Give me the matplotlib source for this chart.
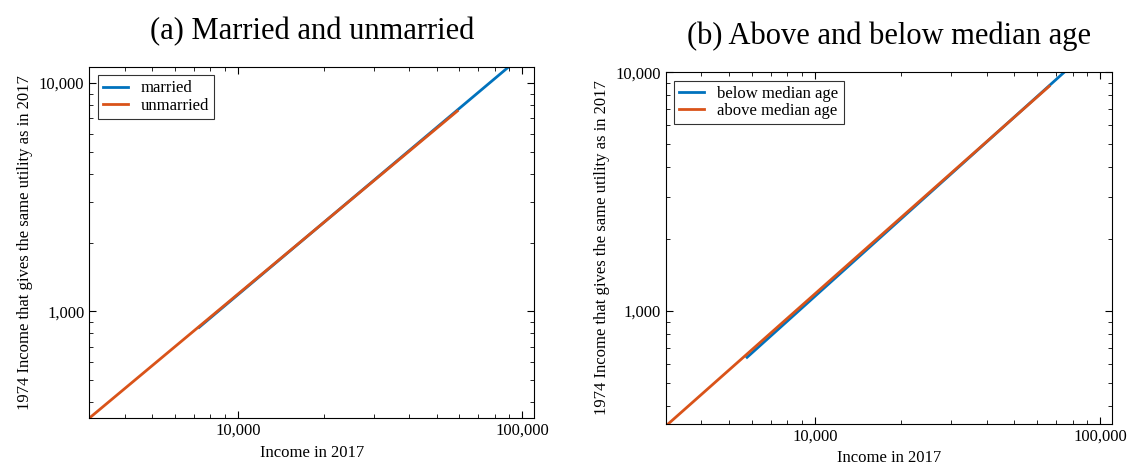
import matplotlib
matplotlib.use("Agg")
import matplotlib.pyplot as plt
from matplotlib.ticker import FixedLocator, FuncFormatter, NullFormatter

plt.rcParams['font.family'] = ['Liberation Serif', 'DejaVu Serif']

# Panel (a)
married_x = [7300, 89300]
married_y = [850, 11760]
unmarried_x = [3000, 59000]
unmarried_y = [340, 7540]
# Panel (b)
below_x = [5780, 74800]
below_y = [640, 10000]
above_x = [3060, 66300]
above_y = [337, 8740]

blue = '#0072BD'
orange = '#D95319'

fig = plt.figure(figsize=(11.44, 4.72), dpi=100)
ax1 = fig.add_axes([0.078, 0.114, 0.389, 0.744])
ax2 = fig.add_axes([0.582, 0.102, 0.390, 0.745])

fmt = FuncFormatter(lambda v, p: f"{int(round(v)):,}")

def style(ax, ylim, title):
    ax.set_xscale('log'); ax.set_yscale('log')
    ax.set_xlim(3000, 110000); ax.set_ylim(*ylim)
    ax.xaxis.set_major_locator(FixedLocator([10000, 100000]))
    ax.yaxis.set_major_locator(FixedLocator([1000, 10000]))
    ax.xaxis.set_major_formatter(fmt); ax.yaxis.set_major_formatter(fmt)
    ax.xaxis.set_minor_formatter(NullFormatter()); ax.yaxis.set_minor_formatter(NullFormatter())
    ax.tick_params(which='both', direction='in', labelsize=12, top=True, right=True)
    ax.tick_params(which='major', length=5); ax.tick_params(which='minor', length=3)
    ax.set_xlabel('Income in 2017', fontsize=12)
    ax.set_ylabel('1974 Income that gives the same utility as in 2017', fontsize=12)
    ax.set_title(title, fontsize=22, pad=20)

ax1.plot(married_x, married_y, color=blue, lw=2, label='married')
ax1.plot(unmarried_x, unmarried_y, color=orange, lw=2, label='unmarried')
style(ax1, (340, 11760), '(a) Married and unmarried')

ax2.plot(below_x, below_y, color=blue, lw=2, label='below median age')
ax2.plot(above_x, above_y, color=orange, lw=2, label='above median age')
style(ax2, (337, 10000), '(b) Above and below median age')

for ax in (ax1, ax2):
    leg = ax.legend(loc='upper left', fontsize=12, frameon=True, fancybox=False,
                    edgecolor='black', handlelength=1.5, borderpad=0.3, labelspacing=0.1)
    leg.get_frame().set_linewidth(0.8)

fig.savefig('out.png', dpi=100)
